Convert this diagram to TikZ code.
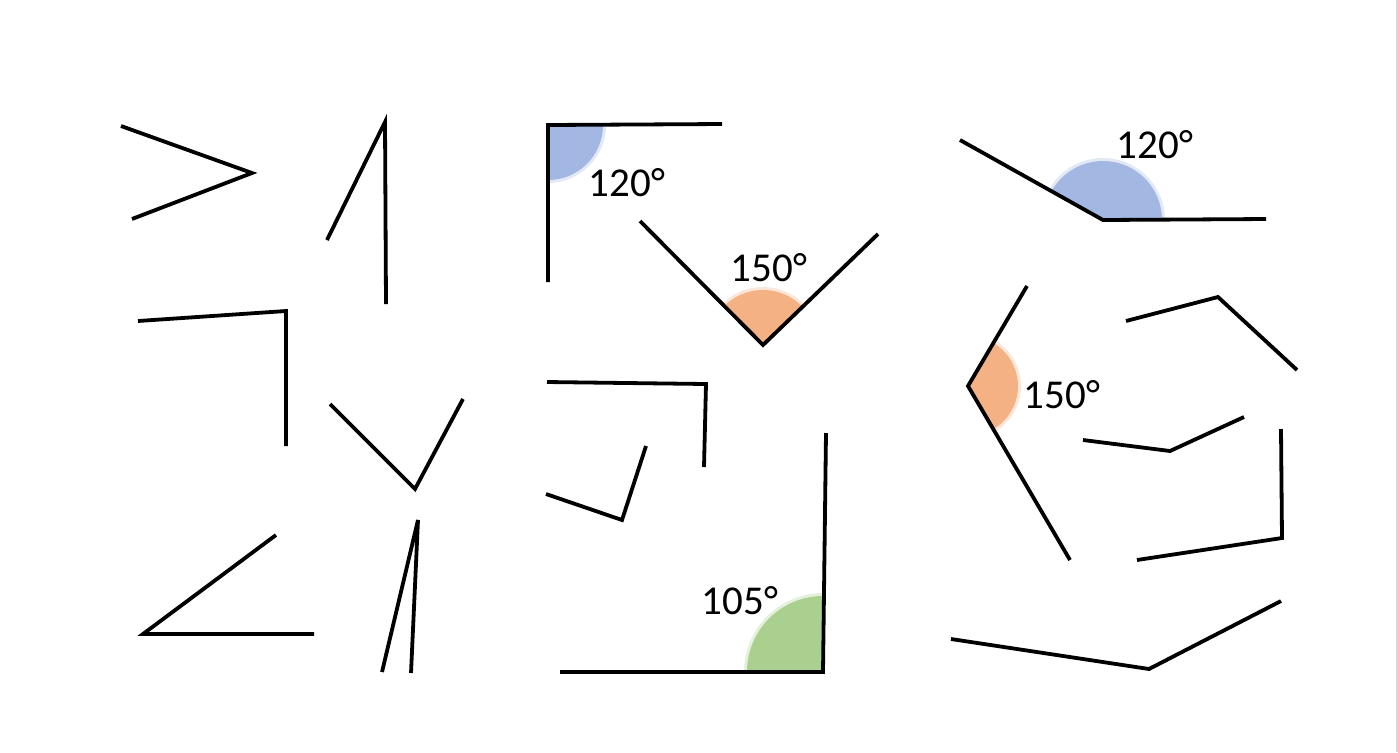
\documentclass[tikz,border=0pt]{standalone}
\usepackage{fontspec}
\setmainfont{Carlito}
\begin{document}
\begin{tikzpicture}[x=0.5pt,y=-0.5pt]
%Define all colors here.

\definecolor{s0fill}{RGB}{162,183,225}
\definecolor{s1fill}{RGB}{244,177,131}
\definecolor{s2fill}{RGB}{169,208,142}
\definecolor{ltext}{RGB}{0,0,0}
\definecolor{edge}{RGB}{215,215,215}

\tikzset{arm/.style={line width=1.9pt, line join=miter, black},
  lbl/.style={text=ltext, inner sep=0pt, font=\fontsize{20.5}{24}\selectfont},
  blur/.style={opacity=0.3}}

\useasboundingbox (0,0) rectangle (1398,752);
\fill[white] (0,0) rectangle (1398,752);
\draw[edge, line width=0.8pt] (1397,0) -- (1397,752);

%Sectors, below the arms.
\fill[s0fill, blur] (548,125) -- ++(0:58) arc[start angle=0, end angle=90, radius=58] -- cycle;
\fill[s0fill] (548,125) -- ++(0:55) arc[start angle=0, end angle=90, radius=55] -- cycle;

\fill[s1fill, blur] (763,345) -- ++(-135:58) arc[start angle=-135, end angle=-44, radius=58] -- cycle;
\fill[s1fill] (763,345) -- ++(-135:55) arc[start angle=-135, end angle=-44, radius=55] -- cycle;

\fill[s2fill, blur] (823,672) -- ++(180:79) arc[start angle=180, end angle=270.7, radius=79] -- cycle;
\fill[s2fill] (823,672) -- ++(180:76) arc[start angle=180, end angle=270.7, radius=76] -- cycle;

\fill[s0fill, blur] (1103,220) -- ++(209.2:62) arc[start angle=209.2, end angle=360, radius=62] -- cycle;
\fill[s0fill] (1103,220) -- ++(209.2:59) arc[start angle=209.2, end angle=360, radius=59] -- cycle;

\fill[s1fill, blur] (968,386) -- ++(-59.5:53) arc[start angle=-59.5, end angle=59.6, radius=53] -- cycle;
\fill[s1fill] (968,386) -- ++(-59.5:50) arc[start angle=-59.5, end angle=59.6, radius=50] -- cycle;

%Left group.
\draw[arm] (121,126) -- (252,173) -- (132,219);
\draw[arm] (327,240) -- (385,122) -- (386,304);
\draw[arm] (138,321) -- (286,311) -- (286,446);
\draw[arm] (330,404) -- (415,489) -- (463,399);
\draw[arm] (276,535) -- (143,634) -- (314,634);
\draw[arm] (382,672) -- (418,520) -- (411,673);

%Middle group.
\draw[arm] (548,282) -- (548,125) -- (722,124);
\draw[arm] (640,221) -- (763,345) -- (878,234);
\draw[arm] (547,382) -- (706,384) -- (704,467);
\draw[arm] (546,494) -- (622,520) -- (646,446);
\draw[arm] (560,672) -- (823,672) -- (826,433);

%Right group.
\draw[arm] (960,140) -- (1103,220) -- (1266,219);
\draw[arm] (1027,286) -- (968,386) -- (1070,560);
\draw[arm] (1126,321) -- (1218,297) -- (1297,370);
\draw[arm] (1083,440) -- (1170,451) -- (1244,417);
\draw[arm] (1281,429) -- (1282,538) -- (1137,560);
\draw[arm] (951,639) -- (1149,669) -- (1281,601);

%Labels.
\node(L0) at (627,183) [lbl] {120°};
\node(L1) at (769,268) [lbl] {150°};
\node(L2) at (740,601) [lbl] {105°};
\node(L3) at (1155,145) [lbl] {120°};
\node(L4) at (1062,395) [lbl] {150°};
\end{tikzpicture}
\end{document}
